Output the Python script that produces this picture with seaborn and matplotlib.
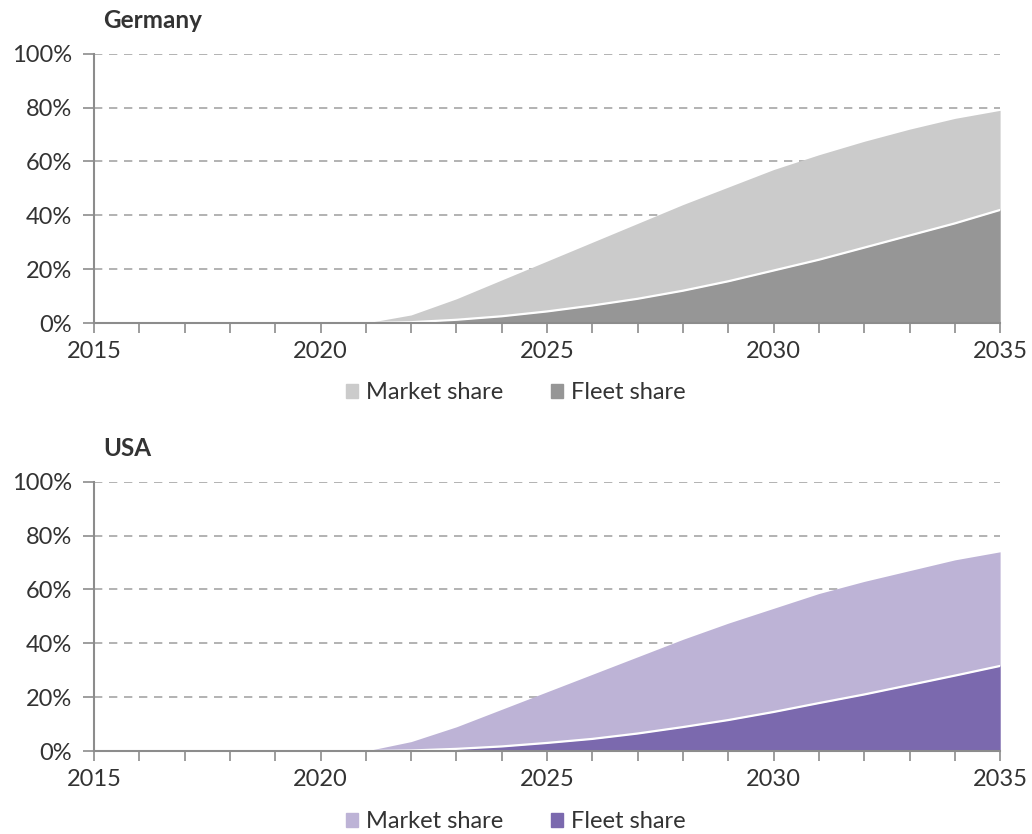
import matplotlib
matplotlib.use("Agg")
import matplotlib.pyplot as plt
import matplotlib.ticker as mticker
from matplotlib.patches import Patch
import seaborn as sns
import pandas as pd

years = list(range(2015, 2036))

# values, in percent
de_market = [0, 0, 0, 0, 0, 0, 0, 3, 9, 16, 23, 30, 37, 44, 50.5, 57, 62.5, 67.5, 72, 76, 79]
de_fleet = [0, 0, 0, 0, 0, 0, 0, 0.3, 1.2, 2.5, 4.3, 6.5, 9, 12, 15.5, 19.5, 23.5, 28, 32.5, 37, 42]
us_market = [0, 0, 0, 0, 0, 0, 0, 3.5, 9, 15.5, 22, 28.5, 35, 41.5, 47.5, 53, 58.5, 63, 67, 71, 74]
us_fleet = [0, 0, 0, 0, 0, 0, 0, 0.2, 0.8, 1.7, 3, 4.5, 6.5, 8.9, 11.5, 14.5, 17.8, 21, 24.5, 28, 31.6]

titles = ["Germany", "USA"]
legend_labels = ["Market share", "Fleet share"]
colors = {"Germany": ("#cbcbcb", "#969696"), "USA": ("#bdb3d6", "#7b69ae")}

sns.set_style("white")
plt.rcParams["font.family"] = ["Lato", "DejaVu Sans"]
text_col = "#333333"
axis_col = "#8c8c8c"

fig = plt.figure(figsize=(10.32, 8.34), dpi=100)
ax_de = fig.add_axes([0.0911, 0.6127, 0.878, 0.3228])
ax_us = fig.add_axes([0.0911, 0.0995, 0.878, 0.3228])

data = {
    "Germany": pd.DataFrame({"year": years, "market": de_market, "fleet": de_fleet}),
    "USA": pd.DataFrame({"year": years, "market": us_market, "fleet": us_fleet}),
}


def draw_panel(ax, name, title_y, legend_y):
    df = data[name]
    c_market, c_fleet = colors[name]
    ax.fill_between(df["year"], 0, df["market"], color=c_market, lw=0, zorder=2)
    ax.fill_between(df["year"], 0, df["fleet"], color=c_fleet, lw=0, zorder=3)
    active = df[df["year"] >= 2021]
    sns.lineplot(data=active, x="year", y="fleet", color="white", lw=1.6, ax=ax, zorder=4)

    ax.set_xlim(2015, 2035)
    ax.set_ylim(0, 100)
    ax.xaxis.set_major_locator(mticker.MultipleLocator(5))
    ax.xaxis.set_minor_locator(mticker.MultipleLocator(1))
    ax.yaxis.set_major_locator(mticker.MultipleLocator(20))
    ax.yaxis.set_major_formatter(mticker.FuncFormatter(lambda v, p: f"{v:.0f}%"))
    ax.set_xlabel("")
    ax.set_ylabel("")

    for y in range(20, 101, 20):
        ax.axhline(y, color="#a6a6a6", lw=1.2, ls=(0, (5, 4)), zorder=1)

    for s in ["top", "right"]:
        ax.spines[s].set_visible(False)
    for s in ["left", "bottom"]:
        ax.spines[s].set_color(axis_col)
        ax.spines[s].set_linewidth(1.5)
        ax.spines[s].set_zorder(5)

    ax.tick_params(axis="x", which="both", direction="out", length=7, width=1.2,
                   color=axis_col, labelsize=17, labelcolor=text_col, pad=6, bottom=True)
    ax.tick_params(axis="y", direction="out", length=8, width=1.2, color=axis_col,
                   labelsize=17, labelcolor=text_col, pad=8, left=True)

    fig.text(0.1, title_y, name, fontsize=17.5, fontweight="bold", color=text_col,
             va="center", ha="left")

    handles = [Patch(color=c_market), Patch(color=c_fleet)]
    fig.legend(handles, legend_labels, loc="center", bbox_to_anchor=(0.5, legend_y),
               ncol=2, frameon=False, fontsize=17, handlelength=0.5, handleheight=0.5,
               handletextpad=0.35, columnspacing=2.0, labelcolor=text_col)


draw_panel(ax_de, "Germany", 0.976, 0.529)
draw_panel(ax_us, "USA", 0.462, 0.0144)

fig.savefig("out.png", dpi=100)
